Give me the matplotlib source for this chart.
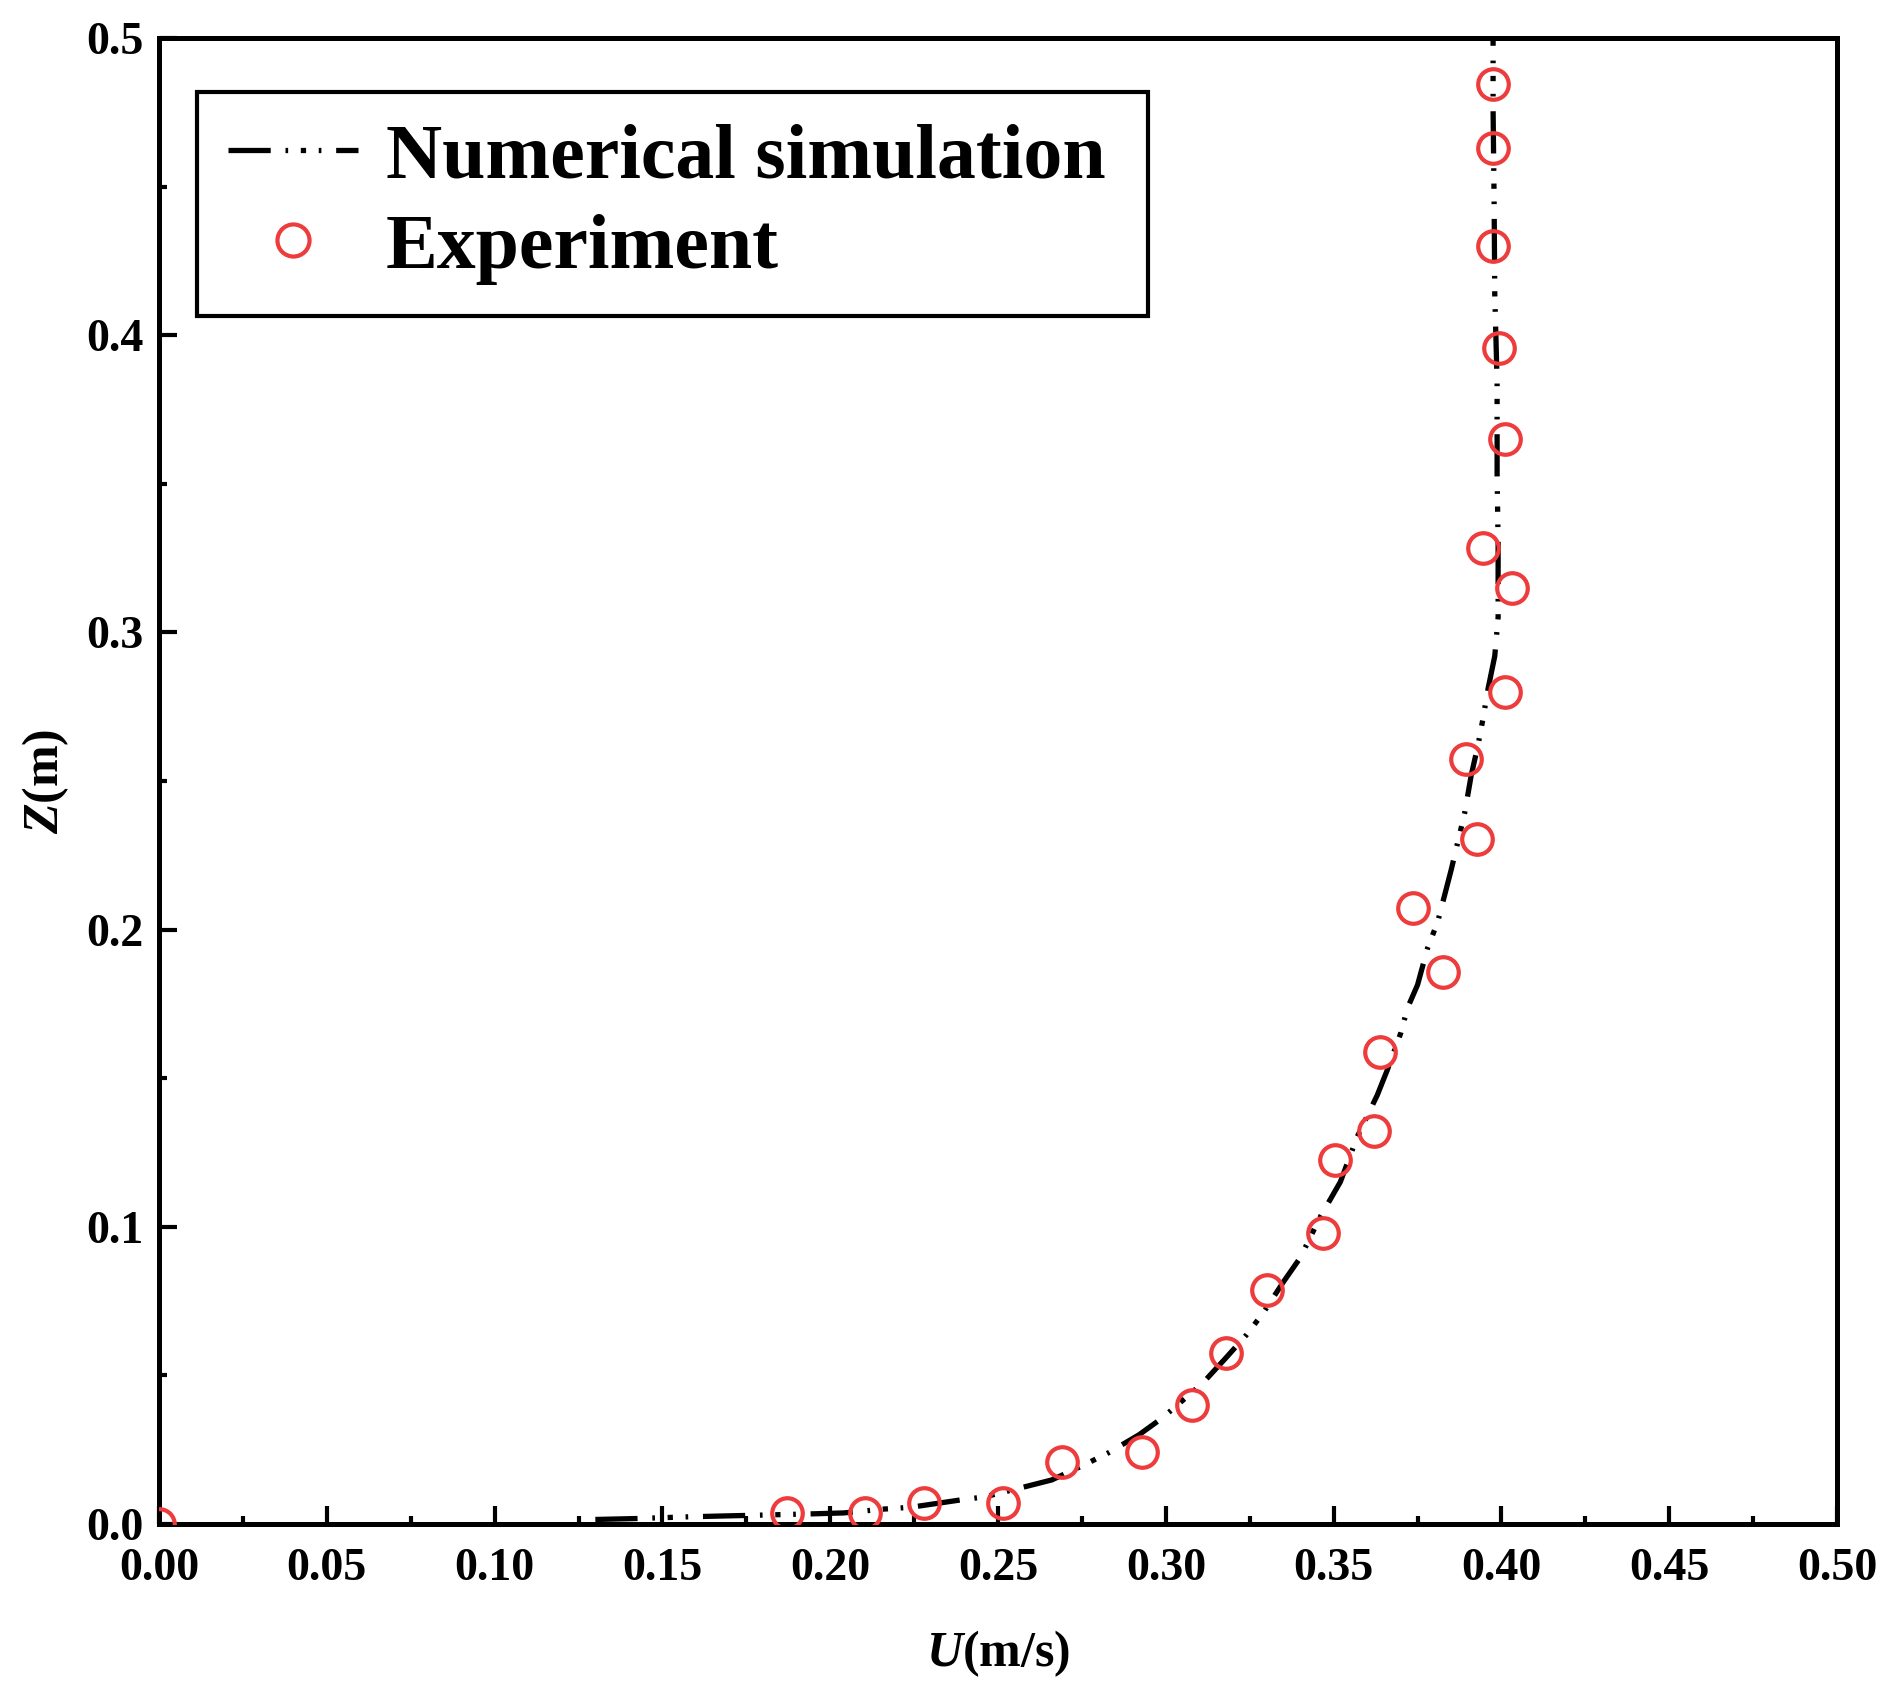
import matplotlib
matplotlib.use("Agg")
import matplotlib.pyplot as plt
from matplotlib.ticker import FixedLocator, MultipleLocator

plt.rcParams['font.family'] = ['Liberation Serif', 'DejaVu Serif']
plt.rcParams['font.weight'] = 'bold'
plt.rcParams['mathtext.fontset'] = 'custom'
plt.rcParams['mathtext.it'] = 'Liberation Serif:italic:bold'
plt.rcParams['mathtext.rm'] = 'Liberation Serif:bold'
plt.rcParams['mathtext.bf'] = 'Liberation Serif:bold'

# ---- data ----
sim_u = [0.130, 0.142, 0.158, 0.169, 0.177, 0.195, 0.204, 0.216, 0.224, 0.239,
         0.246, 0.258, 0.266, 0.275, 0.283, 0.292, 0.299, 0.311, 0.318, 0.324,
         0.329, 0.335, 0.340, 0.346, 0.352, 0.357, 0.363, 0.366, 0.370, 0.372,
         0.375, 0.378, 0.381, 0.385, 0.389, 0.391, 0.393, 0.3945, 0.396, 0.398,
         0.399, 0.399, 0.3987, 0.3987, 0.398, 0.3978, 0.3975, 0.3975]
sim_z = [0.0015, 0.0018, 0.0024, 0.0027, 0.0029, 0.0034, 0.0037, 0.0050, 0.0056, 0.0081,
         0.0091, 0.0125, 0.0148, 0.0195, 0.0240, 0.0300, 0.0357, 0.0474, 0.0560, 0.0636,
         0.0710, 0.0814, 0.0895, 0.1033, 0.1151, 0.1302, 0.1443, 0.1528, 0.1652, 0.1736,
         0.1814, 0.1938, 0.2026, 0.2200, 0.2390, 0.2520, 0.2620, 0.2710, 0.2810, 0.2920,
         0.3050, 0.3300, 0.3530, 0.3840, 0.4140, 0.4460, 0.4760, 0.5000]

exp_u = [0.0, 0.187, 0.2105, 0.228, 0.2516, 0.269, 0.2929, 0.3078, 0.318, 0.330,
         0.3468, 0.3504, 0.3620, 0.3638, 0.3826, 0.3737, 0.3926, 0.3893, 0.4012, 0.4030,
         0.3944, 0.4012, 0.3994, 0.3976, 0.3976, 0.3976]
exp_z = [0.0, 0.0037, 0.0037, 0.0070, 0.0070, 0.0208, 0.0242, 0.0400, 0.0575, 0.0787,
         0.0980, 0.1225, 0.1322, 0.1588, 0.1857, 0.2073, 0.2304, 0.2573, 0.2800, 0.3148,
         0.3283, 0.3650, 0.3956, 0.4300, 0.4630, 0.4845]

x_ticks = [0.00, 0.05, 0.10, 0.15, 0.20, 0.25, 0.30, 0.35, 0.40, 0.45, 0.50]
x_ticklabels = ['0.00', '0.05', '0.10', '0.15', '0.20', '0.25', '0.30', '0.35', '0.40', '0.45', '0.50']
y_ticks = [0.0, 0.1, 0.2, 0.3, 0.4, 0.5]
y_ticklabels = ['0.0', '0.1', '0.2', '0.3', '0.4', '0.5']

series_labels = ['Numerical simulation', 'Experiment']

# ---- figure ----
fig = plt.figure(figsize=(18.98, 16.94), dpi=100)
ax = fig.add_axes([0.0838, 0.1004, 0.8841, 0.8772])

red = '#EE3B3B'
ax.plot(sim_u, sim_z, color='black', lw=3.8,
        linestyle=(0, (8, 2.8, 0.5, 2.4, 1.0, 2.4, 0.5, 2.8)),
        label=series_labels[0], zorder=2)
ax.plot(exp_u, exp_z, linestyle='none', marker='o', markersize=22,
        markerfacecolor='none', markeredgecolor=red, markeredgewidth=3.0,
        label=series_labels[1], zorder=3)

ax.set_xlim(0, 0.5)
ax.set_ylim(0, 0.5)

ax.xaxis.set_major_locator(FixedLocator(x_ticks))
ax.set_xticklabels(x_ticklabels)
ax.yaxis.set_major_locator(FixedLocator(y_ticks))
ax.set_yticklabels(y_ticklabels)
ax.xaxis.set_minor_locator(MultipleLocator(0.025))
ax.yaxis.set_minor_locator(MultipleLocator(0.05))

ax.tick_params(axis='both', which='major', direction='in', length=13, width=3,
               labelsize=33, top=False, right=False)
ax.tick_params(axis='both', which='minor', direction='in', length=6, width=3,
               top=False, right=False)
ax.tick_params(axis='x', which='major', pad=17)
ax.tick_params(axis='y', which='major', pad=11)
for lab in ax.get_xticklabels() + ax.get_yticklabels():
    lab.set_fontweight('bold')

for s in ax.spines.values():
    s.set_linewidth(3.6)

ax.set_xlabel(r'$U$(m/s)', fontsize=36, fontweight='bold')
ax.set_ylabel(r'$Z$(m)', fontsize=36, fontweight='bold')
ax.xaxis.set_label_coords(0.5, -0.0875)
ax.xaxis.label.set_va('center')
ax.yaxis.set_label_coords(-0.0673, 0.5)
ax.yaxis.label.set_va('center')

leg = ax.legend(loc='upper left', bbox_to_anchor=(0.0226, 0.5, 0.5667, 0.4637),
                mode='expand', borderaxespad=0, fontsize=56, frameon=True,
                fancybox=False, framealpha=1, edgecolor='black',
                handlelength=1.67, handletextpad=0.36, borderpad=0.4,
                labelspacing=0.24, markerscale=1.05)
leg.get_frame().set_linewidth(3)
for t in leg.get_texts():
    t.set_fontweight('bold')

fig.savefig('out.png', dpi=100)
